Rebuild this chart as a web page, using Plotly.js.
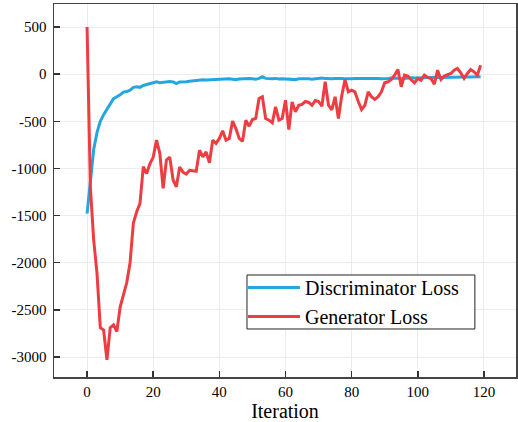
<!DOCTYPE html>
<html>
<head>
<meta charset="utf-8">
<script src="https://cdn.plot.ly/plotly-3.0.1.min.js"></script>
<style>html,body{margin:0;padding:0;background:#fff;}#chart{width:518px;height:422px;}</style>
</head>
<body>
<div id="chart"></div>
<script>
var iterations = [];
for (var i = 0; i < 120; i++) iterations.push(i);

var discriminatorLoss = [
  -1480, -1100, -800, -620, -500, -430, -370, -310, -260, -240,
  -220, -190, -185, -170, -140, -135, -140, -120, -110, -100,
  -90, -80, -90, -85, -80, -78, -82, -100, -82, -85,
  -80, -75, -70, -68, -65, -60, -62, -60, -58, -62,
  -55, -52, -55, -50, -55, -60, -52, -48, -50, -45,
  -50, -55, -45, -28, -45, -50, -48, -45, -52, -48,
  -50, -55, -50, -58, -50, -48, -45, -50, -55, -48,
  -45, -42, -45, -48, -50, -46, -42, -45, -48, -50,
  -48, -45, -44, -48, -50, -46, -42, -40, -45, -48,
  -50, -46, -42, -40, -44, -48, -45, -40, -38, -42,
  -40, -38, -36, -40, -38, -35, -34, -36, -34, -32,
  -34, -32, -30, -32, -30, -31, -30, -32, -30, -28
];

var generatorLoss = [
  500, -1200, -1760, -2110, -2690, -2715, -3030, -2690, -2660, -2730,
  -2470, -2340, -2210, -2000, -1580, -1460, -1370, -980, -1055, -950,
  -880, -700, -840, -1210, -910, -880, -1120, -1195, -985, -1040,
  -1060, -1020, -1025, -1030, -806, -877, -824, -940, -700, -735,
  -682, -601, -700, -682, -498, -577, -682, -712, -488, -552,
  -481, -470, -258, -240, -470, -488, -516, -347, -488, -470,
  -276, -587, -294, -400, -330, -320, -290, -300, -330, -280,
  -290, -340, -81, -329, -380, -240, -470, -230, -57, -188,
  -170, -188, -290, -375, -330, -188, -240, -268, -240, -188,
  -92, -81, -57, -11, 50, -134, -11, -21, -60, -92,
  -46, -64, -11, -35, -46, -106, 42, -57, -21, -4,
  7, 42, 60, 14, -46, 7, 50, 25, -11, 95
];

var xTickVals = [0, 20, 40, 60, 80, 100, 120];
var xTickText = ["0", "20", "40", "60", "80", "100", "120"];
var yTickVals = [500, 0, -500, -1000, -1500, -2000, -2500, -3000];
var yTickText = ["500", "0", "-500", "-1000", "-1500", "-2000", "-2500", "-3000"];

var traces = [
  {x: iterations, y: discriminatorLoss, type: 'scatter', mode: 'lines', name: 'Discriminator Loss',
   line: {color: '#26a6df', width: 3}},
  {x: iterations, y: generatorLoss, type: 'scatter', mode: 'lines', name: 'Generator Loss',
   line: {color: '#ee3d42', width: 3}}
];

var axisCommon = {
  showline: true, linecolor: '#444', linewidth: 1.5, mirror: true,
  ticks: 'inside', ticklen: 6, tickwidth: 1.5, tickcolor: '#333',
  showgrid: true, gridcolor: '#ececec', gridwidth: 1, zeroline: false,
  tickfont: {family: 'Liberation Serif', size: 15, color: '#000'}
};

var layout = {
  width: 518, height: 422,
  margin: {l: 54, r: 2, t: 4, b: 45},
  paper_bgcolor: '#fff', plot_bgcolor: '#fff',
  font: {family: 'Liberation Serif', color: '#000'},
  showlegend: true,
  legend: {x: 0.409, y: 0.292, xanchor: 'left', yanchor: 'top',
    bgcolor: 'rgba(0,0,0,0)', borderwidth: 0,
    font: {family: 'Liberation Serif', size: 20, color: '#000'},
    itemwidth: 52, tracegroupgap: 0},
  shapes: [{type: 'rect', xref: 'paper', yref: 'paper',
    x0: 0.4177, x1: 0.911, y0: 0.1287, y1: 0.2735,
    fillcolor: '#fff', line: {color: '#222', width: 1}, layer: 'above'}],
  xaxis: Object.assign({}, axisCommon, {
    range: [-10, 129.7], tickmode: 'array', tickvals: xTickVals, ticktext: xTickText,
    title: {text: 'Iteration', font: {family: 'Liberation Serif', size: 20, color: '#000'}, standoff: 4}
  }),
  yaxis: Object.assign({}, axisCommon, {
    range: [-3212, 744], tickmode: 'array', tickvals: yTickVals, ticktext: yTickText,
    ticklabelstandoff: 3
  })
};

Plotly.newPlot('chart', traces, layout, {displayModeBar: false, staticPlot: true});
</script>
</body>
</html>
